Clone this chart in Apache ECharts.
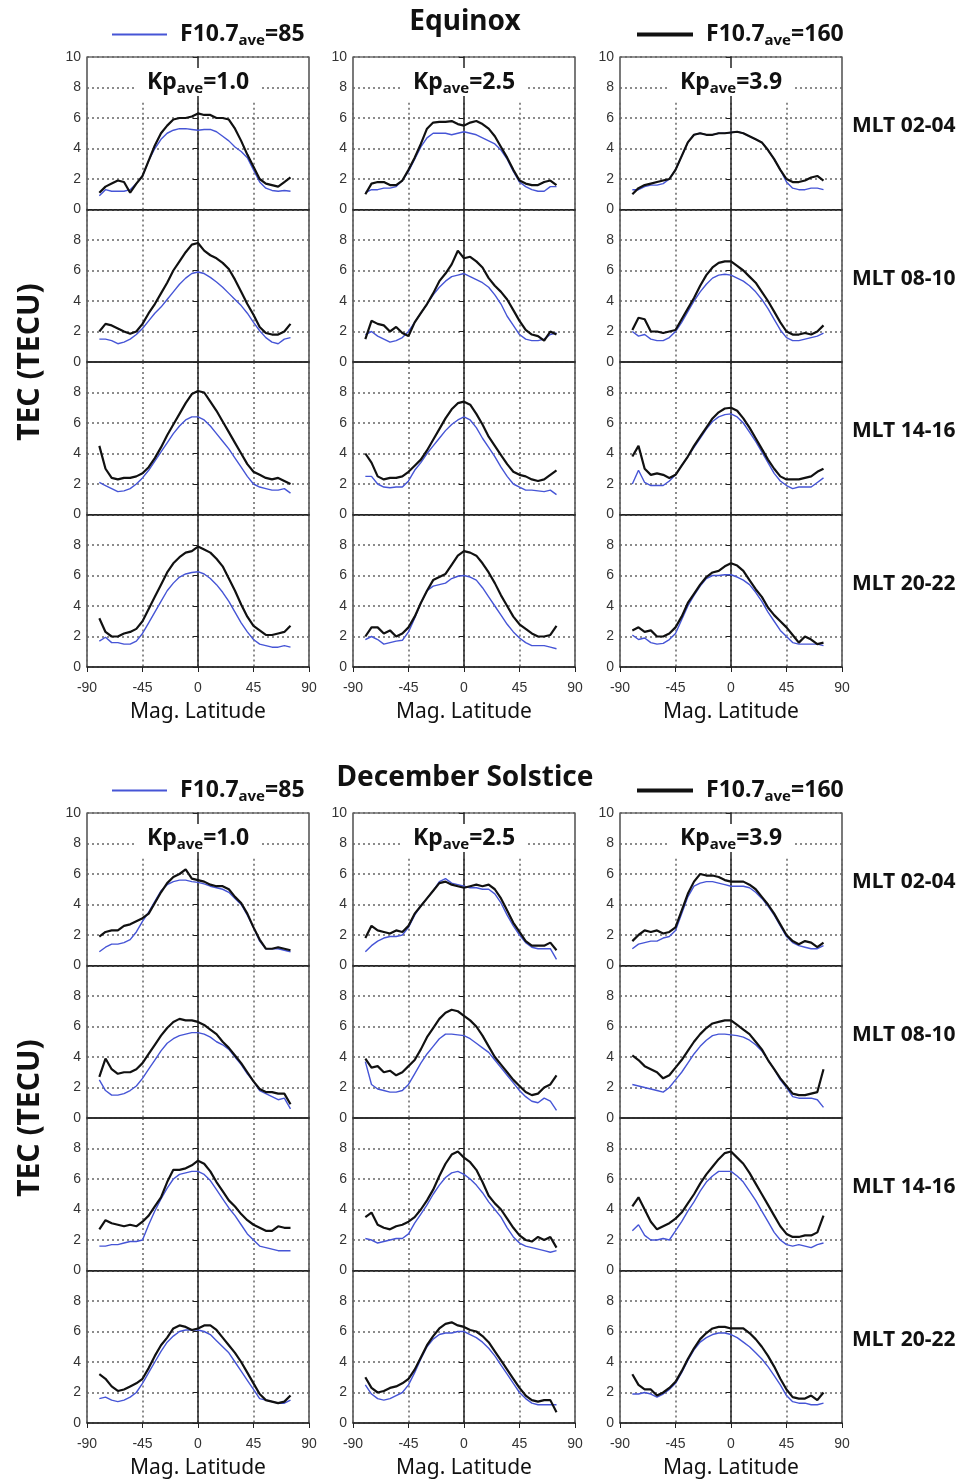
<!DOCTYPE html>
<html>
<head>
<meta charset="utf-8">
<title>TEC vs Mag. Latitude</title>
<script src="https://cdn.jsdelivr.net/npm/echarts/dist/echarts.min.js"></script>
<style>
  html, body { margin: 0; padding: 0; background: #fff; }
  #main { width: 969px; height: 1481px; }
</style>
</head>
<body>
<div id="main"></div>
<script>
// magnetic latitude of each sample (deg)
const lat = [-80, -75, -70, -65, -60, -55, -50, -45, -40, -35, -30, -25, -20, -15, -10, -5,
  0, 5, 10, 15, 20, 25, 30, 35, 40, 45, 50, 55, 60, 65, 70, 75];
const kpLabels = ['1.0', '2.5', '3.9'];
const mltLabels = ['MLT 02-04', 'MLT 08-10', 'MLT 14-16', 'MLT 20-22'];
const seasons = ['Equinox', 'December Solstice'];
const fluxNames = ['F10.7ave=85', 'F10.7ave=160'];

// TEC (TECU). one row per panel, order: MLT 02-04 (Kp 1.0, 2.5, 3.9), MLT 08-10 (...), MLT 14-16, MLT 20-22
const eqLow = [
  [0.9,1.3,1.2,1.2,1.2,1.3,1.7,2.2, 3.2,4.0,4.6,5.0,5.2,5.3,5.3,5.25, 5.2,5.25,5.25,5.1,4.8,4.5,4.1,3.8, 3.4,2.6,1.8,1.4,1.25,1.2,1.25,1.2],
  [1.1,1.3,1.3,1.4,1.4,1.5,1.9,2.5, 3.3,4.1,4.7,5.0,5.0,5.0,4.9,5.0, 5.1,5.0,4.9,4.7,4.5,4.3,3.9,3.3, 2.5,1.8,1.5,1.3,1.2,1.2,1.5,1.5],
  [1.3,1.3,1.5,1.6,1.6,1.7,2.0,2.6, 3.5,4.4,4.9,5.0,4.9,4.9,5.0,5.0, 5.05,5.1,5.0,4.8,4.6,4.4,3.9,3.3, 2.6,1.8,1.4,1.3,1.3,1.4,1.4,1.3],
  [1.5,1.5,1.4,1.2,1.3,1.5,1.8,2.2, 2.7,3.2,3.6,4.1,4.6,5.1,5.5,5.8, 5.9,5.8,5.55,5.25,4.9,4.5,4.1,3.7, 3.2,2.6,2.05,1.6,1.3,1.2,1.5,1.6],
  [1.8,2.0,1.7,1.5,1.3,1.4,1.6,2.0, 2.6,3.2,3.8,4.4,4.9,5.3,5.6,5.7, 5.8,5.6,5.4,5.2,4.9,4.4,3.8,3.0, 2.4,1.8,1.5,1.4,1.4,1.5,1.8,1.9],
  [2.0,1.7,1.8,1.5,1.4,1.4,1.6,2.0, 2.6,3.3,4.0,4.6,5.1,5.5,5.7,5.75, 5.7,5.5,5.3,5.0,4.6,4.1,3.5,2.8, 2.1,1.6,1.4,1.4,1.5,1.6,1.7,1.9],
  [2.1,1.9,1.7,1.5,1.55,1.7,2.0,2.4, 2.9,3.5,4.1,4.7,5.3,5.8,6.2,6.4, 6.4,6.2,5.8,5.3,4.8,4.3,3.7,3.1, 2.5,2.0,1.8,1.7,1.6,1.6,1.7,1.4],
  [2.5,2.5,2.0,1.8,1.75,1.8,1.8,2.2, 2.9,3.4,4.0,4.5,5.0,5.5,5.9,6.2, 6.4,6.2,5.7,5.0,4.4,3.8,3.1,2.5, 2.0,1.8,1.6,1.6,1.55,1.5,1.6,1.3],
  [2.0,2.9,2.1,1.9,1.9,1.9,2.2,2.6, 3.2,3.8,4.4,5.0,5.6,6.1,6.4,6.55, 6.6,6.4,6.0,5.4,4.8,4.1,3.4,2.7, 2.2,1.9,1.7,1.8,1.8,1.8,2.1,2.4],
  [1.7,1.95,1.6,1.6,1.5,1.5,1.7,2.2, 2.9,3.6,4.3,5.0,5.5,5.9,6.1,6.2, 6.25,6.1,5.8,5.4,4.9,4.3,3.6,2.9, 2.3,1.8,1.5,1.4,1.3,1.3,1.4,1.3],
  [1.8,2.0,1.8,1.5,1.6,1.7,1.75,2.3, 3.2,4.2,5.0,5.3,5.4,5.5,5.8,5.95, 6.0,5.9,5.7,5.2,4.6,4.0,3.4,2.8, 2.3,1.9,1.6,1.4,1.4,1.4,1.3,1.2],
  [2.1,1.8,1.9,1.6,1.5,1.55,1.8,2.2, 3.1,4.0,4.7,5.3,5.8,6.0,6.0,6.05, 6.05,5.9,5.7,5.4,4.9,4.3,3.6,3.0, 2.4,2.0,1.6,1.5,1.5,1.5,1.5,1.4]
];
const eqHigh = [
  [1.1,1.5,1.7,1.9,1.8,1.1,1.7,2.2, 3.2,4.2,5.0,5.5,5.9,6.0,6.0,6.1, 6.3,6.2,6.2,6.0,6.0,5.9,5.3,4.5, 3.6,2.8,2.0,1.7,1.6,1.5,1.8,2.1],
  [1.0,1.7,1.8,1.8,1.6,1.6,1.9,2.6, 3.4,4.3,5.3,5.7,5.75,5.75,5.8,5.6, 5.5,5.7,5.8,5.6,5.3,4.8,4.1,3.4, 2.6,1.9,1.7,1.6,1.6,1.8,1.9,1.6],
  [1.0,1.4,1.6,1.7,1.8,1.9,2.0,2.6, 3.5,4.4,4.9,5.0,4.9,4.9,5.0,5.0, 5.05,5.1,5.0,4.8,4.6,4.4,3.9,3.3, 2.6,2.0,1.8,1.8,1.9,2.1,2.2,1.9],
  [2.0,2.5,2.4,2.2,2.0,1.85,2.0,2.5, 3.2,3.8,4.5,5.2,6.0,6.6,7.2,7.7, 7.8,7.3,7.0,6.8,6.5,6.1,5.4,4.6, 3.8,3.1,2.3,1.9,1.8,1.8,2.0,2.5],
  [1.5,2.7,2.5,2.4,2.0,2.3,1.9,1.7, 2.6,3.2,3.8,4.5,5.3,5.8,6.4,7.3, 6.8,6.9,6.6,6.2,5.5,5.0,4.6,4.1, 3.4,2.7,2.1,1.8,1.7,1.4,2.0,1.8],
  [2.1,2.9,2.8,2.0,2.0,1.9,2.0,2.1, 2.8,3.5,4.2,5.0,5.7,6.2,6.5,6.6, 6.6,6.3,6.0,5.6,5.2,4.6,4.0,3.3, 2.6,2.0,1.8,1.8,1.9,1.8,2.0,2.4],
  [4.5,3.0,2.4,2.3,2.4,2.4,2.5,2.7, 3.1,3.7,4.4,5.2,5.9,6.6,7.3,7.9, 8.1,8.0,7.4,6.8,6.1,5.4,4.7,4.0, 3.3,2.8,2.6,2.4,2.3,2.4,2.2,2.0],
  [4.0,3.4,2.5,2.3,2.4,2.4,2.5,2.8, 3.2,3.6,4.2,4.9,5.6,6.3,6.9,7.3, 7.4,7.2,6.6,5.9,5.1,4.5,3.9,3.3, 2.8,2.6,2.5,2.3,2.2,2.3,2.6,2.9],
  [3.8,4.5,3.0,2.6,2.7,2.6,2.4,2.6, 3.2,3.8,4.5,5.1,5.7,6.3,6.7,6.95, 7.0,6.8,6.3,5.7,5.0,4.3,3.6,3.0, 2.5,2.3,2.3,2.3,2.4,2.5,2.8,3.0],
  [3.2,2.3,2.0,2.0,2.2,2.3,2.5,3.0, 3.8,4.6,5.4,6.2,6.8,7.2,7.5,7.6, 7.9,7.7,7.5,7.1,6.6,5.8,5.0,4.1, 3.3,2.7,2.4,2.1,2.1,2.2,2.3,2.7],
  [2.0,2.6,2.6,2.2,2.4,2.0,2.2,2.6, 3.3,4.2,5.0,5.7,5.9,6.1,6.7,7.3, 7.6,7.5,7.3,6.8,6.2,5.5,4.7,4.0, 3.3,2.8,2.5,2.2,2.0,2.0,2.1,2.7],
  [2.4,2.6,2.3,2.4,2.0,2.0,2.2,2.6, 3.3,4.2,4.8,5.4,5.9,6.2,6.3,6.6, 6.8,6.65,6.3,5.7,5.1,4.6,3.9,3.4, 3.0,2.6,2.1,1.6,2.0,1.8,1.5,1.6]
];
const decLow = [
  [0.9,1.2,1.4,1.4,1.5,1.7,2.2,2.9, 3.5,4.2,4.9,5.3,5.5,5.6,5.6,5.5, 5.45,5.35,5.2,5.1,5.0,4.8,4.4,4.0, 3.3,2.5,1.6,1.1,1.1,1.1,1.0,0.9],
  [0.9,1.3,1.6,1.8,1.9,1.9,2.0,2.5, 3.3,3.9,4.4,4.9,5.5,5.7,5.4,5.3, 5.2,5.1,5.1,5.0,5.0,4.7,4.1,3.3, 2.6,2.0,1.5,1.2,1.1,1.1,1.1,0.4],
  [1.1,1.4,1.5,1.6,1.6,1.8,1.9,2.3, 3.4,4.5,5.2,5.4,5.5,5.5,5.4,5.3, 5.2,5.2,5.2,5.1,4.8,4.4,3.9,3.3, 2.6,1.9,1.5,1.3,1.2,1.1,1.1,1.3],
  [2.5,1.8,1.5,1.5,1.6,1.8,2.1,2.6, 3.2,3.8,4.4,4.9,5.2,5.4,5.5,5.6, 5.6,5.5,5.3,5.0,4.8,4.5,4.0,3.5, 2.9,2.4,1.8,1.6,1.4,1.2,1.3,0.6],
  [3.7,2.2,1.9,1.8,1.7,1.7,1.8,2.2, 2.9,3.6,4.2,4.7,5.2,5.5,5.5,5.45, 5.4,5.2,4.9,4.6,4.3,3.8,3.3,2.8, 2.3,1.8,1.4,1.1,1.0,1.3,1.1,0.5],
  [2.2,2.1,2.0,1.9,1.8,1.7,2.0,2.5, 3.0,3.6,4.2,4.7,5.1,5.4,5.5,5.5, 5.45,5.4,5.3,5.1,4.8,4.4,3.8,3.2, 2.5,2.0,1.4,1.3,1.3,1.3,1.2,0.7],
  [1.6,1.6,1.7,1.7,1.8,1.9,1.9,2.0, 3.0,3.9,4.7,5.4,6.0,6.3,6.4,6.5, 6.5,6.3,5.9,5.3,4.7,4.1,3.6,3.0, 2.4,2.0,1.6,1.5,1.4,1.3,1.3,1.3],
  [2.1,2.0,1.8,1.9,2.0,2.1,2.1,2.4, 3.1,3.7,4.3,5.0,5.6,6.1,6.4,6.5, 6.3,6.0,5.6,5.1,4.5,4.0,3.5,2.8, 2.2,1.8,1.6,1.5,1.4,1.3,1.2,1.3],
  [2.6,3.0,2.3,2.0,2.0,2.1,2.0,2.6, 3.2,3.9,4.5,5.2,5.8,6.2,6.5,6.5, 6.5,6.2,5.8,5.2,4.6,3.9,3.2,2.5, 2.0,1.7,1.6,1.7,1.6,1.5,1.7,1.8],
  [1.6,1.7,1.5,1.4,1.5,1.7,2.0,2.6, 3.3,4.0,4.7,5.3,5.7,6.0,6.1,6.1, 6.1,6.0,5.8,5.4,5.0,4.6,4.0,3.4, 2.8,2.2,1.6,1.5,1.4,1.3,1.3,1.5],
  [2.5,1.9,1.6,1.5,1.6,1.8,2.0,2.5, 3.3,4.2,5.0,5.5,5.8,5.9,5.9,6.0, 6.0,5.8,5.6,5.3,4.9,4.4,3.8,3.2, 2.6,2.0,1.6,1.3,1.2,1.2,1.2,1.2],
  [1.9,1.9,2.0,1.9,1.7,1.9,2.2,2.6, 3.3,4.1,4.8,5.3,5.6,5.8,5.9,5.9, 5.8,5.6,5.3,5.0,4.6,4.2,3.7,3.1, 2.5,1.8,1.4,1.3,1.3,1.2,1.2,1.3]
];
const decHigh = [
  [1.9,2.2,2.3,2.3,2.6,2.7,2.9,3.1, 3.4,4.1,4.8,5.4,5.8,6.0,6.3,5.7, 5.6,5.5,5.3,5.2,5.2,5.0,4.5,4.1, 3.4,2.5,1.7,1.1,1.1,1.2,1.1,1.0],
  [1.8,2.6,2.3,2.2,2.1,2.3,2.2,2.6, 3.4,3.9,4.4,4.9,5.4,5.5,5.3,5.2, 5.1,5.2,5.3,5.2,5.3,5.0,4.4,3.6, 2.8,2.2,1.6,1.3,1.3,1.3,1.5,1.0],
  [1.6,2.0,2.3,2.2,2.3,2.1,2.2,2.5, 3.6,4.7,5.5,6.0,5.9,5.9,5.8,5.6, 5.5,5.5,5.5,5.3,5.0,4.5,4.0,3.4, 2.7,2.0,1.6,1.4,1.6,1.5,1.2,1.5],
  [2.7,3.9,3.2,2.9,3.0,3.0,3.2,3.6, 4.2,4.8,5.4,5.9,6.3,6.5,6.4,6.4, 6.3,6.1,5.8,5.5,5.0,4.6,4.1,3.6, 3.0,2.4,1.9,1.7,1.7,1.6,1.6,0.9],
  [3.9,3.3,3.4,3.0,3.1,2.8,3.0,3.4, 3.8,4.5,5.3,5.9,6.5,6.9,7.1,7.0, 6.7,6.4,6.0,5.4,4.7,4.0,3.5,3.0, 2.5,2.1,1.7,1.5,1.6,2.0,2.2,2.8],
  [4.1,3.8,3.4,3.2,3.0,2.6,2.8,3.3, 3.8,4.4,5.0,5.5,5.9,6.2,6.3,6.4, 6.4,6.1,5.8,5.5,5.0,4.5,3.8,3.2, 2.6,2.1,1.6,1.5,1.5,1.6,1.7,3.2],
  [2.7,3.3,3.1,3.0,2.9,3.0,2.9,3.2, 3.6,4.2,4.8,5.8,6.6,6.6,6.7,6.9, 7.2,7.0,6.5,5.8,5.2,4.6,4.2,3.7, 3.3,3.0,2.8,2.6,2.6,2.9,2.8,2.8],
  [3.5,3.8,3.0,2.8,2.7,2.9,3.0,3.2, 3.5,4.0,4.6,5.3,6.2,7.0,7.6,7.8, 7.4,7.1,6.6,5.8,4.9,4.4,4.0,3.4, 2.8,2.3,2.0,1.9,2.2,2.0,2.2,1.5],
  [4.2,4.8,4.0,3.2,2.7,2.9,3.1,3.4, 3.8,4.4,5.0,5.7,6.3,6.8,7.3,7.7, 7.8,7.4,7.0,6.4,5.7,5.0,4.3,3.6, 2.9,2.4,2.2,2.2,2.3,2.3,2.5,3.6],
  [3.2,2.9,2.4,2.1,2.2,2.4,2.6,2.9, 3.6,4.4,5.1,5.6,6.2,6.4,6.3,6.1, 6.2,6.4,6.4,6.1,5.6,5.1,4.6,4.0, 3.3,2.6,1.9,1.5,1.4,1.3,1.4,1.8],
  [3.0,2.3,2.0,2.1,2.3,2.4,2.6,2.9, 3.5,4.3,5.1,5.7,6.2,6.5,6.6,6.4, 6.3,6.1,6.0,5.7,5.3,4.7,4.1,3.5, 2.9,2.3,1.8,1.5,1.4,1.5,1.5,0.7],
  [3.2,2.5,2.2,2.2,1.8,2.0,2.3,2.7, 3.4,4.2,4.9,5.5,5.9,6.2,6.3,6.3, 6.2,6.2,6.2,5.9,5.5,5.0,4.4,3.7, 2.9,2.2,1.7,1.6,1.6,1.8,1.5,2.0]
];

const chart = echarts.init(document.getElementById('main'));

const colLeft = [87, 353, 620];
const panelW = 222, panelH = 152.5;
const sectionTop = [57, 813];
const numFont = 'Liberation Sans';
const txtFont = 'Noto Sans';
const dots = { color: '#666', width: 1.5, type: [2, 3] };
const lowColor = '#4655d6', highColor = '#111';

const subRich = {
  a: { fontFamily: txtFont, fontSize: 23, fontWeight: 'bold', color: '#111' },
  b: { fontFamily: txtFont, fontSize: 15, fontWeight: 'bold', color: '#111', padding: [13, 0, 0, 0] },
  g: { width: 8 }
};
// 'F10.7ave=85' -> F10.7 with subscript ave
function fluxText(name) {
  const v = name.split('=')[1];
  return '{g|}{a|F10.7}{b|ave}{a|=' + v + '}';
}

const grids = [], xAxes = [], yAxes = [], series = [], titles = [], legends = [], graphics = [];
const topRowGuides = [];

seasons.forEach(function (season, s) {
  const low = s === 0 ? eqLow : decLow;
  const high = s === 0 ? eqHigh : decHigh;
  const top0 = sectionTop[s];

  titles.push({
    text: season, left: 465, top: top0 - 52, textAlign: 'center', padding: 0, z: 10,
    textStyle: { fontFamily: txtFont, fontSize: 28, fontWeight: 'bold', color: '#111', lineHeight: 34 }
  });
  kpLabels.forEach(function (kp, c) {
    titles.push({
      text: '{a|Kp}{b|ave}{a|=' + kp + '}', left: colLeft[c] + panelW / 2 - 10, top: top0 + 11,
      textAlign: 'center', padding: [0, 10], backgroundColor: '#fff', z: 10,
      textStyle: { rich: subRich, lineHeight: 28 }
    });
  });
  mltLabels.forEach(function (mlt, r) {
    titles.push({
      text: mlt, left: 852, top: top0 + r * panelH + panelH / 2 - 19, padding: 0, z: 10,
      textStyle: { fontFamily: txtFont, fontSize: 21, fontWeight: 'bold', color: '#111', lineHeight: 24 }
    });
  });
  graphics.push({
    type: 'text', x: 30, y: top0 + 2 * panelH, rotation: Math.PI / 2,
    style: { text: 'TEC (TECU)', fontFamily: txtFont, fontSize: 30, fontWeight: 'bold', fill: '#111',
      align: 'center', verticalAlign: 'middle' }
  });
  legends.push({
    data: [fluxNames[0]], left: 107, top: top0 - 39, icon: 'rect', itemWidth: 55, itemHeight: 2,
    selectedMode: false, formatter: fluxText, textStyle: { rich: subRich }
  });
  legends.push({
    data: [fluxNames[1]], left: 632, top: top0 - 39, icon: 'rect', itemWidth: 56, itemHeight: 4,
    selectedMode: false, formatter: fluxText, textStyle: { rich: subRich }
  });

  mltLabels.forEach(function (mlt, r) {
    kpLabels.forEach(function (kp, c) {
      const idx = grids.length;
      const p = r * 3 + c;
      const firstRow = r === 0, lastRow = r === 3;
      grids.push({
        left: colLeft[c], top: top0 + r * panelH, width: panelW, height: panelH,
        show: true, borderColor: '#222', borderWidth: 1.2
      });
      xAxes.push({
        gridIndex: idx, type: 'value', min: -90, max: 90, interval: 45,
        axisLine: { lineStyle: { color: '#222', width: 1.5 } },
        axisTick: { show: lastRow, length: 5, lineStyle: { color: '#222' } },
        axisLabel: { show: lastRow, fontFamily: numFont, fontSize: 14, color: '#333', margin: 14 },
        splitLine: { show: !firstRow, lineStyle: dots },
        name: lastRow ? 'Mag. Latitude' : '', nameLocation: 'middle', nameGap: 35,
        nameTextStyle: { fontFamily: txtFont, fontSize: 21, color: '#111' }
      });
      yAxes.push({
        gridIndex: idx, type: 'value', min: 0, max: 10, interval: 2,
        axisLine: { show: true, lineStyle: { color: '#222', width: 1.5 } },
        axisTick: { show: true, length: 5, lineStyle: { color: '#222' } },
        axisLabel: {
          fontFamily: numFont, fontSize: 14, color: '#333', margin: 6,
          formatter: function (v) { return (v === 10 && !firstRow) ? '' : String(v); }
        },
        splitLine: { show: true, lineStyle: dots }
      });
      if (firstRow) topRowGuides.push({ left: colLeft[c], top: top0 + 0.3 * panelH });
      series.push({
        name: fluxNames[0], type: 'line', xAxisIndex: idx, yAxisIndex: idx,
        data: lat.map(function (x, i) { return [x, low[p][i]]; }),
        symbol: 'none', lineStyle: { color: lowColor, width: 1.4 }, itemStyle: { color: lowColor },
        z: 3, animation: false, silent: true
      });
      series.push({
        name: fluxNames[1], type: 'line', xAxisIndex: idx, yAxisIndex: idx,
        data: lat.map(function (x, i) { return [x, high[p][i]]; }),
        symbol: 'none', lineStyle: { color: highColor, width: 2.2 }, itemStyle: { color: highColor },
        z: 4, animation: false, silent: true
      });
    });
  });
});

// top row: vertical grid lines only run from 0 up to about 7, below the Kp label
topRowGuides.forEach(function (g) {
  const idx = grids.length;
  grids.push({ left: g.left, top: g.top, width: panelW, height: 0.7 * panelH, show: false });
  xAxes.push({
    gridIndex: idx, type: 'value', min: -90, max: 90, interval: 45,
    axisLine: { show: false }, axisTick: { show: false }, axisLabel: { show: false },
    splitLine: { show: true, lineStyle: dots }
  });
  yAxes.push({ gridIndex: idx, type: 'value', min: 0, max: 7, show: false });
});

const option = {
  backgroundColor: '#fff',
  animation: false,
  title: titles,
  legend: legends,
  grid: grids,
  xAxis: xAxes,
  yAxis: yAxes,
  series: series,
  graphic: graphics
};
option && chart.setOption(option);
</script>
</body>
</html>
